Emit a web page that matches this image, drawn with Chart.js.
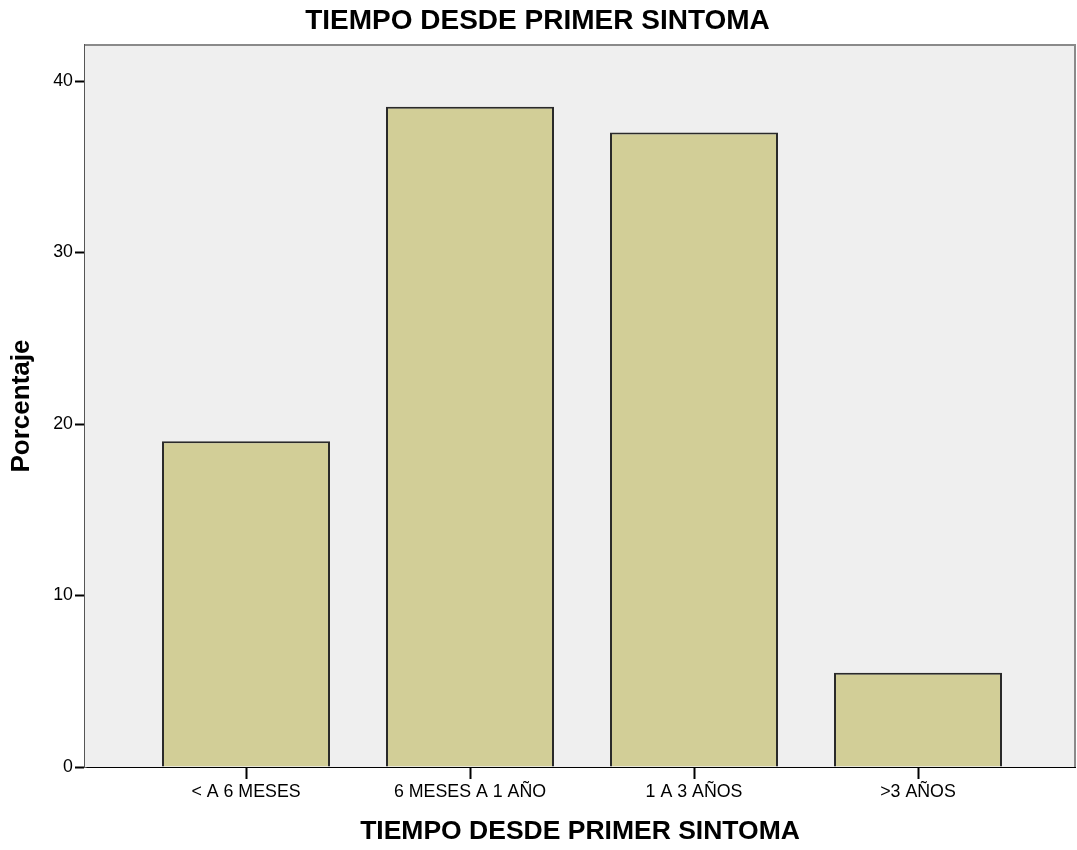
<!DOCTYPE html>
<html>
<head>
<meta charset="utf-8">
<script src="https://cdn.jsdelivr.net/npm/chart.js@4"></script>
<style>
html,body{margin:0;padding:0;background:#fff;}
#wrap{width:1077px;height:850px;position:relative;}
</style>
</head>
<body>
<div id="wrap"><canvas id="c" width="1077" height="850"></canvas></div>
<script>
const categories = ["< A 6 MESES", "6 MESES A 1 AÑO", "1 A 3 AÑOS", ">3 AÑOS"];
const percentages = [19.0, 38.5, 37.0, 5.5];
const yTickValues = [0, 10, 20, 30, 40];
const chartTitle = "TIEMPO DESDE PRIMER SINTOMA";
const xTitle = "TIEMPO DESDE PRIMER SINTOMA";
const yTitle = "Porcentaje";

const FONT = "'Liberation Sans', Arial, sans-serif";

const plotFrame = {
  id: 'plotFrame',
  beforeDatasetsDraw(chart) {
    const {ctx, chartArea: a} = chart;
    ctx.save();
    ctx.fillStyle = '#efefef';
    ctx.fillRect(a.left, a.top, a.right - a.left, a.bottom - a.top);
    ctx.restore();
  },
  afterDraw(chart) {
    const {ctx, chartArea: a} = chart;
    ctx.save();
    ctx.strokeStyle = '#8a8a8a';
    ctx.lineWidth = 2;
    ctx.beginPath();
    ctx.moveTo(a.left, a.top);
    ctx.lineTo(a.right, a.top);
    ctx.lineTo(a.right, a.bottom);
    ctx.stroke();
    ctx.restore();
  }
};

new Chart(document.getElementById('c'), {
  type: 'bar',
  data: {
    datasets: [{
      data: percentages.map((v, i) => ({x: i, y: v})),
      backgroundColor: '#d2ce97',
      borderColor: '#2a2a2a',
      borderWidth: 2,
      barPercentage: 0.75,
      categoryPercentage: 1.0
    }]
  },
  plugins: [plotFrame],
  options: {
    responsive: false,
    animation: false,
    layout: {padding: {top: 0, left: 0, right: 2, bottom: 0}},
    plugins: {
      legend: {display: false},
      tooltip: {enabled: false},
      title: {
        display: true,
        text: chartTitle,
        color: '#000',
        font: {family: FONT, size: 28, weight: 'bold'},
        padding: {top: 4, bottom: 7.4}
      }
    },
    scales: {
      x: {
        type: 'linear',
        offset: false,
        min: -0.7188,
        max: 3.7009,
        afterBuildTicks(scale) {
          scale.ticks = categories.map((c, i) => ({value: i}));
        },
        afterFit(scale) { scale.height = 83; },
        ticks: {
          autoSkip: false,
          maxRotation: 0,
          color: '#000',
          padding: 2,
          font: {family: FONT, size: 17.8},
          callback: (v) => categories[v]
        },
        grid: {offset: false, drawOnChartArea: false, tickLength: 12, tickColor: '#000', tickWidth: 2},
        border: {display: true, color: '#000', width: 2},
        title: {
          display: true,
          text: xTitle,
          color: '#000',
          font: {family: FONT, size: 26.5, weight: 'bold'},
          padding: {top: 0, bottom: 2}
        }
      },
      y: {
        min: 0,
        max: 42.1,
        afterBuildTicks(scale) {
          scale.ticks = yTickValues.map(v => ({value: v}));
        },
        afterFit(scale) { scale.width = 85; },
        ticks: {
          color: '#000',
          padding: 2,
          font: {family: FONT, size: 17.8}
        },
        grid: {drawOnChartArea: false, tickLength: 10, tickColor: '#000', tickWidth: 2},
        border: {display: true, color: '#555', width: 2.5},
        title: {
          display: true,
          text: yTitle,
          color: '#000',
          font: {family: FONT, size: 26, weight: 'bold'},
          padding: {top: 6, bottom: 0}
        }
      }
    }
  }
});
</script>
</body>
</html>
